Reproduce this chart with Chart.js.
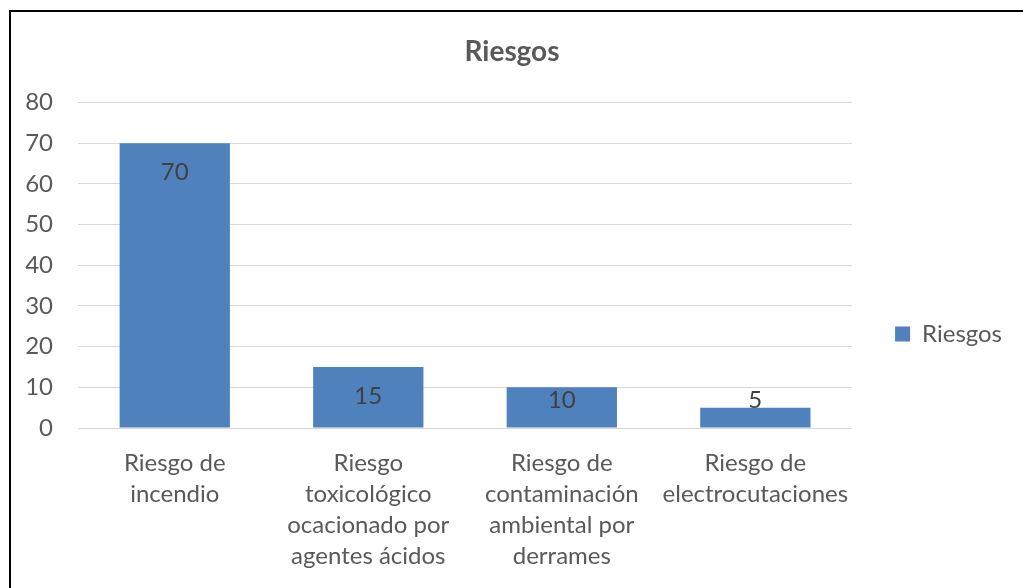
<!DOCTYPE html>
<html>
<head>
<meta charset="utf-8">
<script src="https://cdn.jsdelivr.net/npm/chart.js@4/dist/chart.umd.min.js"></script>
<style>
  html, body { margin: 0; padding: 0; background: #ffffff; }
  #wrap { position: relative; width: 1023px; height: 588px; overflow: hidden; }
  #frame { position: absolute; left: 9px; top: 10px; width: 1100px; height: 700px;
           border-left: 2px solid #000; border-top: 2px solid #000; }
  canvas { position: absolute; left: 0; top: 0; }
</style>
</head>
<body>
<div id="wrap">
  <div id="frame"></div>
  <canvas id="c" width="1023" height="588"></canvas>
</div>
<script>
const chartTitle = "Riesgos";
const seriesName = "Riesgos";
const categories = [
  ["Riesgo de", "incendio"],
  ["Riesgo", "toxicológico", "ocacionado por", "agentes ácidos"],
  ["Riesgo de", "contaminación", "ambiental por", "derrames"],
  ["Riesgo de", "electrocutaciones"]
];
const values = [70, 15, 10, 5];
const yMin = 0, yMax = 80, yStep = 10;

const FONT = "Lato, 'Open Sans', sans-serif";
const TXT = "#595959";

const dataLabels = {
  id: "dataLabels",
  afterDatasetsDraw(chart) {
    const ctx = chart.ctx;
    const meta = chart.getDatasetMeta(0);
    const zeroY = chart.scales.y.getPixelForValue(0);
    ctx.save();
    ctx.font = "24px " + FONT;
    ctx.fillStyle = "#404040";
    ctx.textAlign = "center";
    ctx.textBaseline = "middle";
    meta.data.forEach((el, i) => {
      const y = Math.min(el.y + 29, zeroY - 28);
      ctx.fillText(String(values[i]), el.x, y);
    });
    ctx.restore();
  }
};

new Chart(document.getElementById("c"), {
  type: "bar",
  data: {
    labels: categories,
    datasets: [{
      label: seriesName,
      data: values,
      backgroundColor: "#4F81BD",
      borderWidth: 0,
      categoryPercentage: 1.0,
      barPercentage: 0.57
    }]
  },
  options: {
    responsive: false,
    animation: false,
    devicePixelRatio: 1,
    layout: { padding: { left: 12, right: 11, top: 0, bottom: 0 } },
    plugins: {
      title: {
        display: true,
        text: chartTitle,
        color: TXT,
        font: { family: FONT, size: 28, weight: "bold", lineHeight: 1.2 },
        padding: { top: 35, bottom: 34 }
      },
      legend: {
        position: "right",
        align: "start",
        title: {
          display: true,
          text: "",
          font: { family: FONT, size: 10, lineHeight: 1 },
          padding: { top: 302, bottom: 0 }
        },
        labels: {
          color: TXT,
          font: { family: FONT, size: 24 },
          boxWidth: 15,
          boxHeight: 15,
          padding: 10
        }
      },
      tooltip: { enabled: false }
    },
    scales: {
      x: {
        grid: { display: false, drawTicks: false },
        border: { display: false },
        ticks: {
          color: TXT,
          font: { family: FONT, size: 24, lineHeight: 1.29 },
          padding: 20,
          maxRotation: 0,
          autoSkip: false
        },
        afterFit(s) { s.height = 160; }
      },
      y: {
        min: yMin, max: yMax,
        grid: { color: "#D9D9D9", lineWidth: 1, drawTicks: false },
        border: { display: false },
        ticks: {
          stepSize: yStep,
          color: TXT,
          font: { family: FONT, size: 24 },
          padding: 25
        },
        afterFit(s) { s.width = 66; }
      },
      y2: {
        position: "right",
        display: true,
        grid: { display: false, drawTicks: false },
        border: { display: false },
        ticks: { display: false },
        afterFit(s) { s.width = 33; }
      }
    }
  },
  plugins: [dataLabels]
});
</script>
</body>
</html>
